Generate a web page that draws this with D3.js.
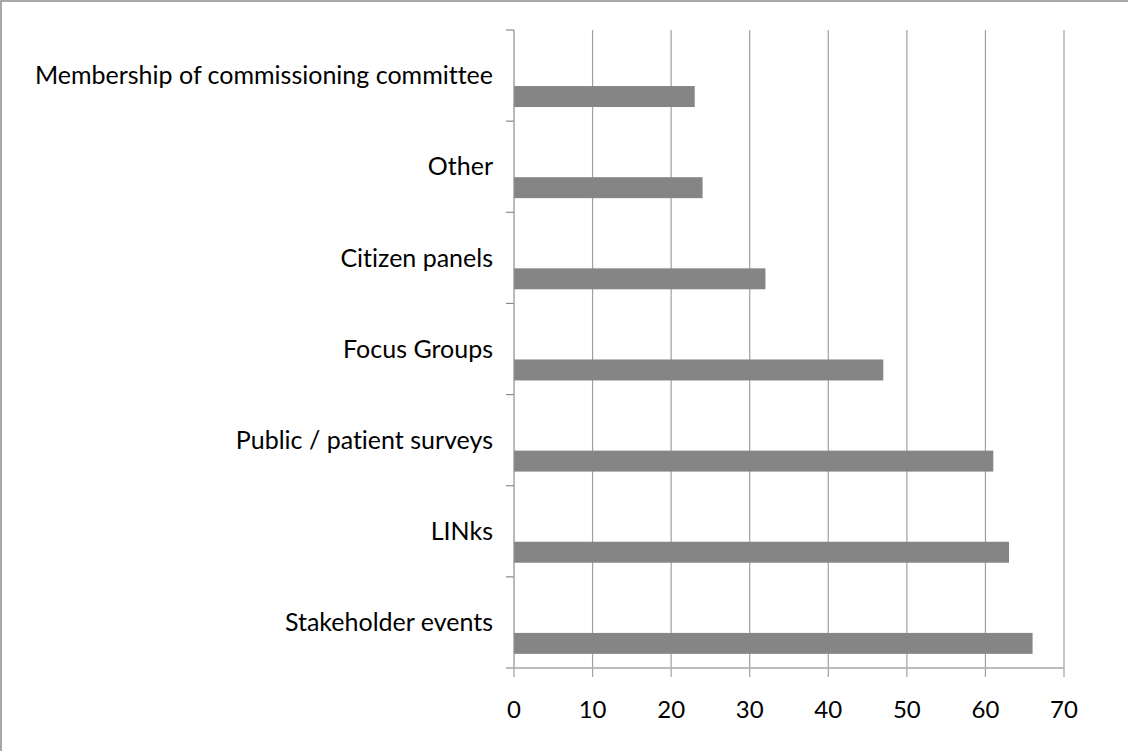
<!DOCTYPE html>
<html><head><meta charset="utf-8">
<script src="https://cdn.jsdelivr.net/npm/d3@7"></script>
<style>body{margin:0;background:#fff}svg{display:block}text{font-variant-ligatures:none;font-feature-settings:"liga" 0}</style>
</head><body>
<svg id="c" width="1128" height="751"></svg>
<script>
const categories = ["Membership of commissioning committee","Other","Citizen panels","Focus Groups","Public / patient surveys","LINks","Stakeholder events"];
const values = [23,24,32,47,61,63,66];
const xTicks = [0,10,20,30,40,50,60,70];

const svg = d3.select("#c");
const W = 1128, H = 751;
const m = {left:514, right:1064, top:30, bottom:668};

svg.append("rect").attr("x",1).attr("y",1).attr("width",W+20).attr("height",H+20)
  .attr("fill","#fff").attr("stroke","#8c8c8c").attr("stroke-width",1.5);

const x = d3.scaleLinear().domain([0,70]).range([m.left,m.right]);
const y = d3.scaleBand().domain(categories).range([m.top,m.bottom]);

// gridlines
svg.append("g").selectAll("line").data(xTicks.slice(1)).join("line")
  .attr("x1",d=>x(d)).attr("x2",d=>x(d)).attr("y1",m.top).attr("y2",m.bottom)
  .attr("stroke","#a0a0a0").attr("stroke-width",1.2);

// bars
const bw = y.bandwidth();
svg.append("g").selectAll("rect").data(values).join("rect")
  .attr("x",x(0)).attr("y",(d,i)=>y(categories[i]) + bw*0.615)
  .attr("width",d=>x(d)-x(0)).attr("height",bw*0.23)
  .attr("fill","#858585");

// y axis
const ya = svg.append("g");
ya.append("line").attr("x1",m.left).attr("x2",m.left).attr("y1",m.top).attr("y2",m.bottom)
  .attr("stroke","#8c8c8c").attr("stroke-width",1.2);
const yEdges = categories.map(c=>y(c)).concat([m.bottom]);
ya.selectAll("line.t").data(yEdges).join("line").attr("class","t")
  .attr("x1",m.left-8).attr("x2",m.left).attr("y1",d=>d).attr("y2",d=>d)
  .attr("stroke","#8c8c8c").attr("stroke-width",1.2);
ya.selectAll("text").data(categories).join("text")
  .attr("x",493).attr("y",d=>y(d)+bw*0.595)
  .attr("text-anchor","end")
  .attr("font-family","Lato, 'Open Sans', sans-serif").attr("font-size",25)
  .attr("fill","#000").text(d=>d);

// x axis
const xa = svg.append("g");
xa.append("line").attr("x1",m.left-8).attr("x2",m.right).attr("y1",m.bottom).attr("y2",m.bottom)
  .attr("stroke","#bcbcbc").attr("stroke-width",2);
xa.selectAll("line.t").data(xTicks).join("line").attr("class","t")
  .attr("x1",d=>x(d)).attr("x2",d=>x(d)).attr("y1",m.bottom).attr("y2",m.bottom+9)
  .attr("stroke","#a0a0a0").attr("stroke-width",1.2);
xa.selectAll("text").data(xTicks).join("text")
  .attr("x",d=>x(d)).attr("y",718).attr("text-anchor","middle")
  .attr("font-family","Lato, 'Open Sans', sans-serif").attr("font-size",24)
  .attr("fill","#000").text(d=>d);
</script>
</body></html>
